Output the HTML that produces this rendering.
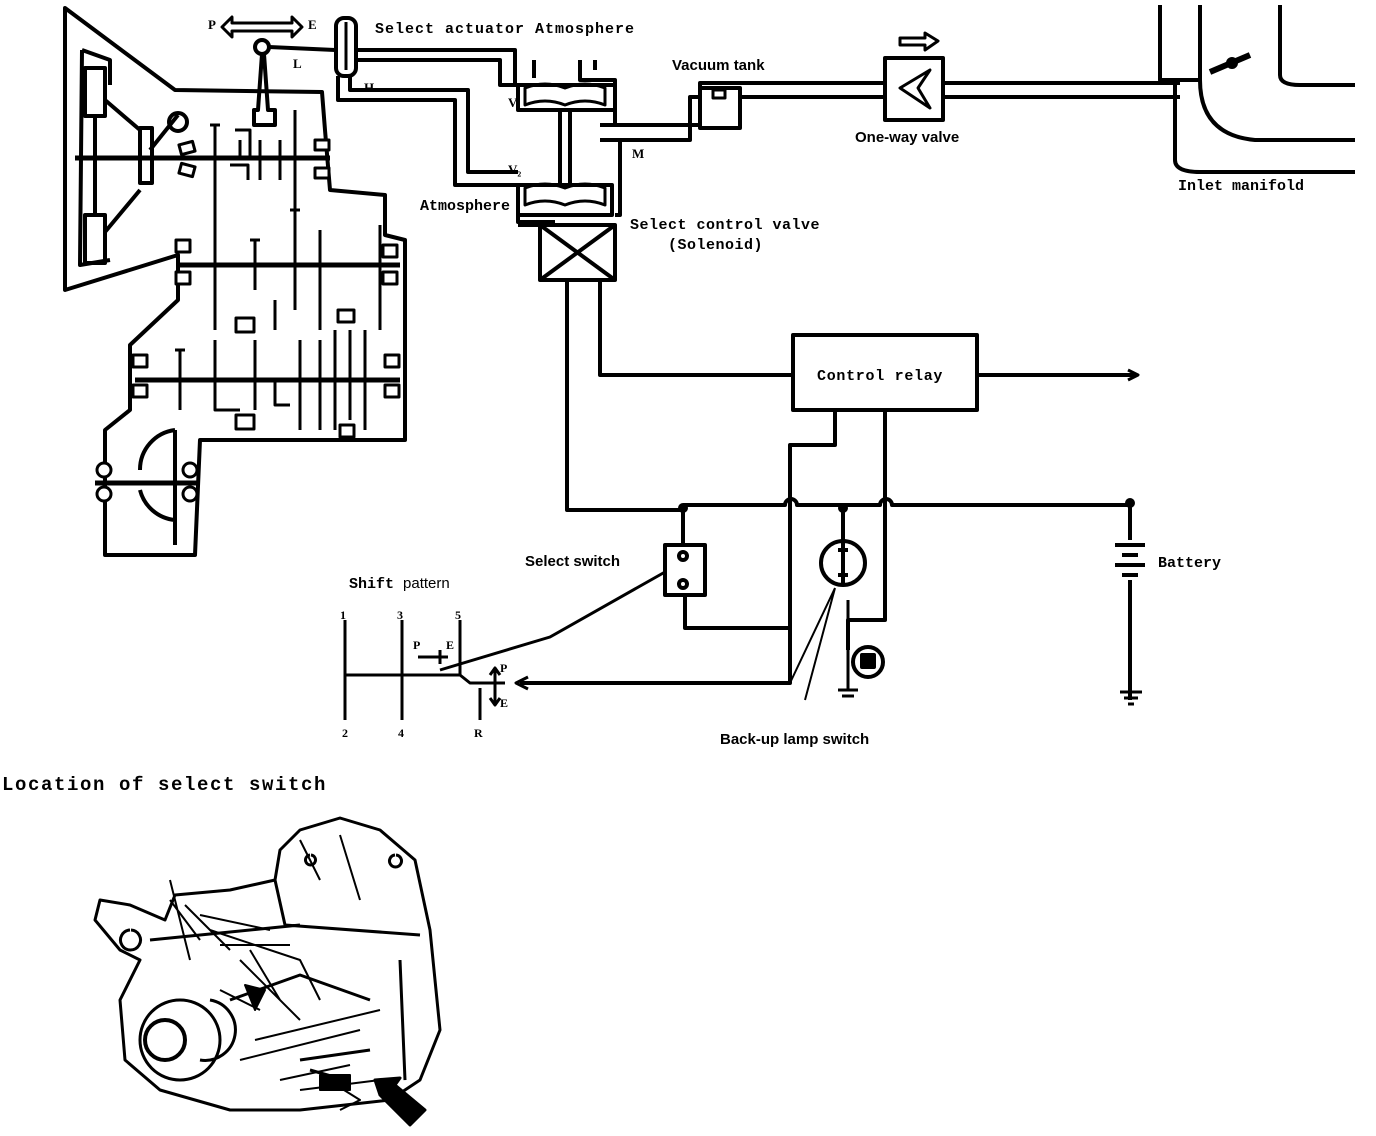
<!DOCTYPE html>
<html><head><style>html,body{margin:0;padding:0;background:#fff}svg{display:block}text{font-weight:bold;fill:#000}</style></head><body>
<svg width="1376" height="1136" viewBox="0 0 1376 1136" xmlns="http://www.w3.org/2000/svg" fill="none" stroke="#000" stroke-width="4" stroke-linejoin="round" font-family="Liberation Sans, sans-serif">
<path d="M65,8 L175,90 L322,92 L325,130 L330,190 L385,195 L385,235 L405,240 L405,440 L200,440 L195,555 L105,555 L105,430 L130,410 L130,345 L178,300 L178,255 L65,290 Z"/>
<path d="M82,50 L80,265 L110,260 M82,50 L110,60 L110,85"/>
<rect x="85" y="68" width="20" height="48"/><rect x="85" y="215" width="20" height="48"/>
<path d="M95,118 V165 M95,165 V215 M105,100 L140,130 M105,232 L140,190"/>
<rect x="140" y="128" width="12" height="55"/>
<circle cx="178" cy="122" r="9"/><path d="M150,150 L178,115"/>
<path d="M75,158 H330" stroke-width="5"/>
<path d="M180,265 H400" stroke-width="5"/>
<path d="M135,380 H400" stroke-width="5"/>
<path d="M95,483 H200" stroke-width="5"/>
<path d="M140,470 A40,40 0 0 1 175,430 M140,490 A40,40 0 0 0 175,520 M175,430 V545"/>
<g stroke-width="3">
<path d="M215,125 V330 M210,125 H220 M295,110 V310 M290,210 H300 M320,230 V330 M380,225 V330 M255,240 V290 M250,240 H260 M255,340 V410 M275,300 V330 M300,340 V430 M320,340 V430 M335,330 V430 M350,330 V420 M365,330 V430 M215,340 V410 M180,350 V410 M175,350 H185"/>
<path d="M240,140 V160 M235,130 H250 V160 M260,140 V180 M280,140 V180 M230,165 H248 V180"/>
<rect x="236" y="318" width="18" height="14"/><rect x="338" y="310" width="16" height="12"/><rect x="236" y="415" width="18" height="14"/><rect x="340" y="425" width="14" height="12"/>
<path d="M215,380 V410 H240 M275,380 V405 H290"/>
</g>
<g fill="#fff" stroke-width="3">
<rect x="180" y="143" width="14" height="10" transform="rotate(-15 187 148)"/><rect x="180" y="165" width="14" height="10" transform="rotate(15 187 170)"/>
<rect x="315" y="140" width="14" height="10"/><rect x="315" y="168" width="14" height="10"/>
<rect x="176" y="240" width="14" height="12"/><rect x="176" y="272" width="14" height="12"/>
<rect x="383" y="245" width="14" height="12"/><rect x="383" y="272" width="14" height="12"/>
<rect x="133" y="355" width="14" height="12"/><rect x="133" y="385" width="14" height="12"/>
<rect x="385" y="355" width="14" height="12"/><rect x="385" y="385" width="14" height="12"/>
<circle cx="104" cy="470" r="7"/><circle cx="104" cy="494" r="7"/><circle cx="190" cy="470" r="7"/><circle cx="190" cy="494" r="7"/>
</g>
<circle cx="262" cy="47" r="7"/><path d="M262,54 L258,110 H254 V125 H275 V110 H268 L264,54 M269,47 L335,50"/>
<path d="M222,27 L232,17 V23 H292 V17 L302,27 L292,37 V31 H232 V37 Z" stroke-width="3"/>
<rect x="336" y="18" width="20" height="58" rx="8"/><path d="M346,22 V70" stroke-width="3"/>
<path d="M338,76 V100 H455 V185 H518 M350,76 V90 H468 V172 H518 M356,50 H515 V85 H530 M356,60 H500 V85 H518 M534,60 V78 M580,60 V80 H615 V125 M595,60 V70 M600,125 H700 V83 H1180 M600,140 H690 V97 H1180 M620,140 V215 H615"/>
<path d="M518,85 H615 V110 H518 Z M518,185 H612 V215 H518 Z M560,110 V185 M570,110 V185 M518,215 V222 H555 M518,225 H540"/>
<path d="M525,88 Q545,80 565,88 Q585,80 605,88 V105 Q585,97 565,105 Q545,97 525,105 Z M525,188 Q545,180 565,188 Q585,180 605,188 V205 Q585,197 565,205 Q545,197 525,205 Z" stroke-width="3"/>
<rect x="700" y="88" width="40" height="40" fill="#fff"/><rect x="713" y="90" width="12" height="8" stroke-width="3"/>
<rect x="885" y="58" width="58" height="62" fill="#fff"/><path d="M900,88 L930,70 L918,88 L930,108 Z" stroke-width="3"/>
<path d="M900,38 H925 V33 L938,41 L925,50 V45 H900 Z" stroke-width="3"/>
<path d="M1160,5 V80 H1200 V5 M1175,80 V160 Q1175,172 1200,172 H1355 M1200,80 Q1200,135 1255,140 H1355 M1280,5 V75 Q1280,85 1300,85 H1355"/>
<path d="M1210,72 L1250,55" stroke-width="6"/><circle cx="1232" cy="63" r="4"/>
<rect x="540" y="225" width="75" height="55" fill="#fff"/><path d="M540,225 L615,280 M615,225 L540,280"/>
<path d="M567,280 V510 H683 M600,280 V375 H793"/>
<rect x="793" y="335" width="184" height="75"/>
<path d="M977,375 H1135"/><path d="M1128,370 L1138,375 L1128,380" stroke-width="3"/>
<path d="M683,505 H785 A6,6 0 0 1 797,505 H880 A6,6 0 0 1 892,505 H1130 V540 M1130,580 V700"/>
<circle cx="683" cy="508" r="3" fill="#000"/><circle cx="843" cy="508" r="3" fill="#000"/><circle cx="1130" cy="503" r="3" fill="#000"/>
<path d="M1115,545 H1145 M1122,555 H1138 M1115,565 H1145 M1122,575 H1138"/>
<path d="M1120,692 H1142 M1124,698 H1138 M1128,704 H1134" stroke-width="3"/>
<path d="M835,410 V445 H790 V683 H520"/><path d="M528,677 L516,683 L528,689" stroke-width="3"/>
<path d="M885,410 V620 H848 V650"/>
<path d="M843,505 V540"/>
<circle cx="843" cy="563" r="22"/><path d="M843,541 V585 M838,550 h10 M838,575 h10"/>
<circle cx="868" cy="662" r="15"/><rect x="862" y="655" width="12" height="12" fill="#000"/>
<path d="M848,600 V690 M838,690 H858 M842,696 H854" stroke-width="3"/>
<path d="M835,588 L790,683 M835,588 L805,700" stroke-width="2"/>
<path d="M683,508 V545 M685,595 V628 H790"/>
<rect x="665" y="545" width="40" height="50"/><circle cx="683" cy="556" r="4"/><circle cx="683" cy="584" r="4"/>
<path d="M665,572 L550,637 L440,670" stroke-width="3"/>
<g stroke-width="3">
<path d="M345,620 V720 M402,620 V720 M460,620 V675 M480,688 V720 M345,675 H460 L470,683 H505"/>
<path d="M418,657 H448 M440,650 V664 M495,670 V705 M490,675 L495,668 L500,675 M490,698 L495,705 L500,698"/>
</g>
<g stroke-width="3">
<path d="M280,850 L300,830 L340,818 L380,830 L415,860 L430,930 L440,1030 L420,1080 L390,1100 L300,1110 L230,1110 L160,1090 L125,1060 L120,1000 L140,960 L120,950 L95,920 L100,900 L130,905 L165,920 L175,895 L230,890 L275,880 Z"/>
<path d="M275,880 L285,925 L420,935 M180,1000 A40,40 0 1 0 180,1080 A40,40 0 1 0 180,1000 M210,1000 A30,30 0 1 1 200,1060 M230,1000 L300,975 L370,1000 M150,940 L300,925 M400,960 L405,1080 M300,1060 L370,1050 M310,1070 L345,1080"/>
<path d="M380,1095 L410,1125 L425,1110 L395,1085 L400,1078 L375,1080 Z" fill="#000"/>
<path d="M130,930 A10,10 0 1 0 131,930 M310,855 A5,5 0 1 0 311,855 M395,855 A6,6 0 1 0 396,855"/>
</g>
<g stroke-width="2">
<path d="M170,900 L200,940 M185,905 L230,950 M200,915 L270,930 M210,930 L300,960 L320,1000 M220,945 L290,945 M240,960 L300,1020 M250,950 L280,1000 M255,1040 L380,1010 M240,1060 L360,1030 M280,1080 L350,1065 M300,1090 L380,1080 M320,1075 L360,1100 L340,1110 M170,880 L190,960 M300,840 L320,880 M340,835 L360,900 M220,990 L260,1010"/>
<path d="M165,1020 A20,20 0 1 0 165,1060 A20,20 0 1 0 165,1020" stroke-width="4"/>
<path d="M245,985 L265,990 L255,1010 Z M320,1075 h30 v15 h-30 Z" fill="#000"/>
</g>
<g stroke="none">
<text x="208" y="29" font-size="13" style="font-family:'Liberation Serif',serif">P</text>
<text x="308" y="29" font-size="13" style="font-family:'Liberation Serif',serif">E</text>
<text x="293" y="68" font-size="13" style="font-family:'Liberation Serif',serif">L</text>
<text x="364" y="92" font-size="13" style="font-family:'Liberation Serif',serif">H</text>
<text x="375" y="33" font-size="15" letter-spacing="1" style="font-family:'Liberation Mono',monospace">Select actuator Atmosphere</text>
<text x="508" y="107" font-size="13" style="font-family:'Liberation Serif',serif">V₁</text>
<text x="508" y="174" font-size="13" style="font-family:'Liberation Serif',serif">V₂</text>
<text x="632" y="158" font-size="13" style="font-family:'Liberation Serif',serif">M</text>
<text x="420" y="210" font-size="15" style="font-family:'Liberation Mono',monospace">Atmosphere</text>
<text x="630" y="229" font-size="15" letter-spacing="0.5" style="font-family:'Liberation Mono',monospace">Select control valve</text>
<text x="668" y="249" font-size="15" letter-spacing="0.5" style="font-family:'Liberation Mono',monospace">(Solenoid)</text>
<text x="672" y="70" font-size="15" font-weight="normal">Vacuum tank</text>
<text x="855" y="142" font-size="15" font-weight="normal">One-way valve</text>
<text x="1178" y="190" font-size="15" style="font-family:'Liberation Mono',monospace">Inlet manifold</text>
<text x="817" y="380" font-size="15" letter-spacing="0.7" style="font-family:'Liberation Mono',monospace">Control relay</text>
<text x="1158" y="567" font-size="15" style="font-family:'Liberation Mono',monospace">Battery</text>
<text x="525" y="566" font-size="15" font-weight="normal">Select switch</text>
<text x="349" y="588" font-size="15" style="font-family:'Liberation Mono',monospace">Shift <tspan font-weight="normal" style="font-family:'Liberation Sans',sans-serif">pattern</tspan></text>
<text x="720" y="744" font-size="15" font-weight="normal">Back-up lamp switch</text>
<text x="2" y="790" font-size="19" letter-spacing="1.6" style="font-family:'Liberation Mono',monospace">Location of select switch</text>
<g font-size="12" style="font-family:'Liberation Serif',serif"><text x="340" y="619">1</text><text x="397" y="619">3</text><text x="455" y="619">5</text><text x="342" y="737">2</text><text x="398" y="737">4</text><text x="474" y="737">R</text><text x="413" y="649">P</text><text x="446" y="649">E</text><text x="500" y="672">P</text><text x="500" y="707">E</text></g>
</g>
</svg>
</body></html>
